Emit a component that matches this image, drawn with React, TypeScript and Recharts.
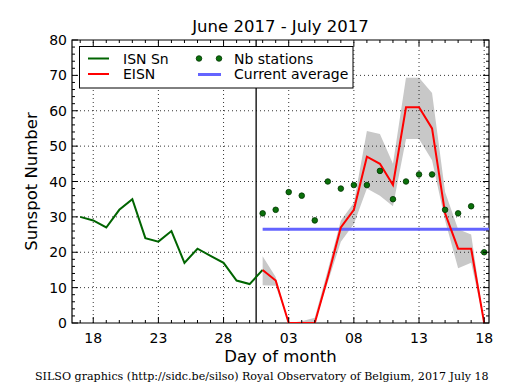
import { ComposedChart, Line, Area, XAxis, YAxis, ReferenceLine, ReferenceArea } from "recharts";

// day numbers counted from June 1 (July d = 30 + d)
const isnDays = [17, 18, 19, 20, 21, 22, 23, 24, 25, 26, 27, 28, 29, 30, 31];
const isnValues = [30, 29, 27, 32, 35, 24, 23, 26, 17, 21, 19, 17, 12, 11, 15];

const eisnDays = [31, 32, 33, 34, 35, 36, 37, 38, 39, 40, 41, 42, 43, 44, 45, 46, 47, 48];
const eisnValues = [15, 12, 0, 0, 0, 13, 27, 32, 47, 45, 39, 61, 61, 55, 31, 21, 21, 0];
const eisnLow = [10.7, 10.5, 0, 0, 0, 11.5, 23, 28, 38, 36, 33, 52, 52, 46, 29, 15.5, 17, 0];
const eisnHigh = [18.9, 13, 0, 0.5, 1.5, 15, 29, 34, 54.3, 53.4, 45, 69.3, 69.3, 65, 37, 26.5, 25, 0];
const nbStations = [31, 32, 37, 36, 29, 40, 38, 39, 39, 43, 35, 40, 42, 42, 32, 31, 33, 20];

const currentAverage = 26.5;
const lastIsnDay = 30.5;

const X_MIN = 16.37;
const X_MAX = 48.37;
const xMajor = [18, 23, 28, 33, 38, 43, 48];
const xMinor = Array.from({ length: 32 }, (_, i) => 17 + i);
const yMajor = [0, 10, 20, 30, 40, 50, 60, 70, 80];
const yMinor = Array.from({ length: 41 }, (_, i) => i * 2);

const W = 515;
const H = 390;
const PLOT = { left: 72, right: 489, top: 40, bottom: 323 };
const FONT = "DejaVu Sans";

type Row = { day: number; isn?: number; eisn?: number; band?: [number, number]; nb?: number; avg?: number };

const rowMap = new Map<number, Row>();
const row = (d: number) => {
  if (!rowMap.has(d)) rowMap.set(d, { day: d });
  return rowMap.get(d)!;
};
isnDays.forEach((d, i) => (row(d).isn = isnValues[i]));
eisnDays.forEach((d, i) => {
  const r = row(d);
  r.eisn = eisnValues[i];
  r.band = [eisnLow[i], eisnHigh[i]];
  r.nb = nbStations[i];
  r.avg = currentAverage;
});
row(X_MAX).avg = currentAverage;
const data = [...rowMap.values()].sort((a, b) => a.day - b.day);

const dayLabel = (d: number) => (d > 30 ? String(d - 30).padStart(2, "0") : String(d));

const XTick = (props: any) => {
  const { x, payload } = props;
  const v = payload.value;
  const major = xMajor.includes(v);
  const len = major ? 6 : 3;
  return (
    <g>
      <line x1={x} x2={x} y1={PLOT.bottom} y2={PLOT.bottom - len} stroke="#000" />
      <line x1={x} x2={x} y1={PLOT.top} y2={PLOT.top + len} stroke="#000" />
      {major && (
        <text x={x} y={343} textAnchor="middle" fontSize={14} fontFamily={FONT} fill="#000">
          {dayLabel(v)}
        </text>
      )}
    </g>
  );
};

const YTick = (props: any) => {
  const { y, payload } = props;
  const v = payload.value;
  const major = v % 10 === 0;
  const len = major ? 6 : 3;
  return (
    <g>
      <line x1={PLOT.left} x2={PLOT.left + len} y1={y} y2={y} stroke="#000" />
      <line x1={PLOT.right} x2={PLOT.right - len} y1={y} y2={y} stroke="#000" />
      {major && (
        <text x={67} y={y + 5} textAnchor="end" fontSize={14} fontFamily={FONT} fill="#000">
          {v}
        </text>
      )}
    </g>
  );
};

function Overlay() {
  const cx = (PLOT.left + PLOT.right) / 2;
  return (
    <svg width={W} height={H} style={{ position: "absolute", left: 0, top: 0, pointerEvents: "none" }}>
      <text x={cx} y={32} textAnchor="middle" fontSize={16.5} fontFamily={FONT}>
        June 2017 - July 2017
      </text>
      <text x={cx} y={362} textAnchor="middle" fontSize={16.5} fontFamily={FONT}>
        Day of month
      </text>
      <text
        x={0}
        y={0}
        transform={`translate(37 ${(PLOT.top + PLOT.bottom) / 2}) rotate(-90)`}
        textAnchor="middle"
        fontSize={16.5}
        fontFamily={FONT}
      >
        Sunspot Number
      </text>
      <text x={35} y={380} fontSize={11.1} fontFamily="DejaVu Serif">
        SILSO graphics (http://sidc.be/silso) Royal Observatory of Belgium, 2017 July 18
      </text>
      <g fontFamily={FONT} fontSize={14}>
        <rect x={79.5} y={46.5} width={273.5} height={41.5} fill="#fff" stroke="#000" strokeWidth={1} />
        <line x1={88} x2={109} y1={58.5} y2={58.5} stroke="#006400" strokeWidth={2} />
        <text x={123} y={63.5}>ISN Sn</text>
        <line x1={88} x2={109} y1={74} y2={74} stroke="#ff0000" strokeWidth={2} />
        <text x={123} y={79}>EISN</text>
        <circle cx={199} cy={58.5} r={2.8} fill="#0a700a" stroke="#003300" strokeWidth={0.8} />
        <circle cx={219} cy={58.5} r={2.8} fill="#0a700a" stroke="#003300" strokeWidth={0.8} />
        <text x={234} y={63.5}>Nb stations</text>
        <line x1={198} x2={221} y1={74.5} y2={74.5} stroke="#6464ff" strokeWidth={3} />
        <text x={234} y={79}>Current average</text>
      </g>
    </svg>
  );
}

export default function App() {
  return (
    <div style={{ position: "absolute", left: 0, top: 0, width: W, height: H, background: "#fff" }}>
      <ComposedChart
        width={W}
        height={H}
        data={data}
        margin={{ top: PLOT.top, right: W - PLOT.right, bottom: H - PLOT.bottom - 30, left: PLOT.left - 40 }}
      >
        <XAxis
          dataKey="day"
          type="number"
          domain={[X_MIN, X_MAX]}
          allowDataOverflow
          ticks={xMinor}
          interval={0}
          tick={XTick}
          tickLine={false}
          axisLine={false}
          height={30}
        />
        <YAxis
          type="number"
          domain={[0, 80]}
          allowDataOverflow
          ticks={yMinor}
          interval={0}
          tick={YTick}
          tickLine={false}
          axisLine={false}
          width={40}
        />
        {xMajor.map((v) => (
          <ReferenceLine key={"gx" + v} x={v} stroke="#000" strokeWidth={0.8} strokeDasharray="1 3" />
        ))}
        {yMajor.slice(1, -1).map((v) => (
          <ReferenceLine key={"gy" + v} y={v} stroke="#000" strokeWidth={0.8} strokeDasharray="1 3" />
        ))}
        <ReferenceArea x1={X_MIN} x2={X_MAX} y1={0} y2={80} fill="none" stroke="#000" strokeWidth={1.2} fillOpacity={0} />
        <ReferenceLine x={lastIsnDay} stroke="#000" strokeWidth={1.3} />
        <Area dataKey="band" stroke="none" fill="#c8c8c8" fillOpacity={1} isAnimationActive={false} connectNulls={false} />
        <Line dataKey="avg" stroke="#6464ff" strokeWidth={3} dot={false} isAnimationActive={false} />
        <Line dataKey="isn" stroke="#006400" strokeWidth={2} dot={false} isAnimationActive={false} />
        <Line dataKey="eisn" stroke="#ff0000" strokeWidth={2} dot={false} isAnimationActive={false} />
        <Line
          dataKey="nb"
          stroke="none"
          dot={{ r: 2.8, fill: "#0a700a", stroke: "#003300", strokeWidth: 0.8 }}
          isAnimationActive={false}
        />
      </ComposedChart>
      <Overlay />
    </div>
  );
}
